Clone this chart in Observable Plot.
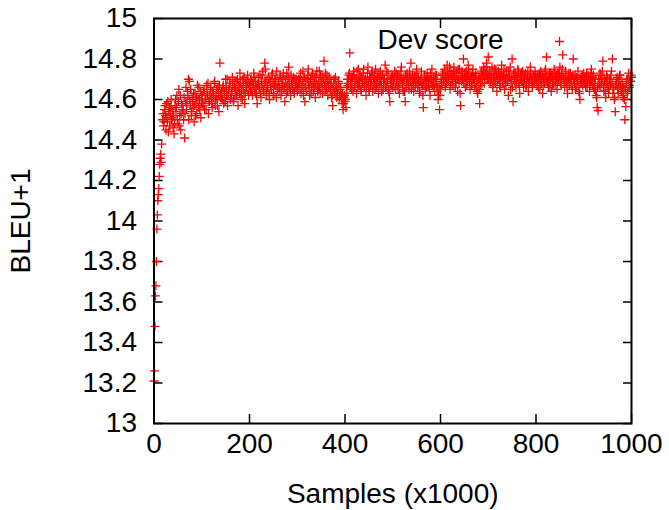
<!DOCTYPE html>
<html><head><meta charset="utf-8">
<script src="https://cdn.jsdelivr.net/npm/d3@7"></script>
<script src="https://cdn.jsdelivr.net/npm/@observablehq/plot@0.6"></script>
<style>html,body{margin:0;padding:0;background:#fff;}</style>
</head><body><div id="chart"></div>
<script>
// Early steep rise (samples x1000, one per sample)
const riseSamples = [0,1,2,3,4,5,6,7,8,9,10,11,12,13,14,15,16];
const riseBleu = [13.21,13.26,13.48,13.63,13.68,13.80,13.96,14.03,14.10,14.13,14.16,14.22,14.28,14.31,14.33,14.29,14.38];

// Plateau, even samples: 18, 20, 22, ... 1000
const evenStart = 18;
const bandStep = 2;
const evenBleu = [
14.50,14.47,14.55,14.52,14.58,14.49,14.44,14.56,14.53,14.60,14.51,14.46,
14.43,14.57,14.54,14.62,14.48,14.65,14.52,14.45,14.58,14.55,
14.50,14.41,14.59,14.55,14.64,14.70,14.69,14.57,14.52,14.61,14.56,14.49,14.63,14.58,14.53,14.60,14.66,14.55,14.51,14.62,
14.58,14.64,14.55,14.60,14.67,14.62,14.53,14.59,14.65,14.61,14.56,14.63,14.68,14.57,14.62,14.60,14.66,14.54,14.78,14.63,
14.61,14.66,14.58,14.64,14.70,14.62,14.57,14.65,14.68,14.60,14.63,14.71,14.59,14.66,14.62,14.69,14.64,14.57,14.67,14.73,14.61,14.65,14.70,14.63,14.58,14.68,14.66,14.72,14.62,14.67,
14.64,14.69,14.62,14.67,14.71,14.63,14.66,14.58,14.68,14.65,14.72,14.61,14.67,14.74,14.64,14.78,14.69,14.62,14.66,14.71,14.60,14.68,14.65,14.73,14.63,14.67,14.70,14.61,14.66,14.69,14.64,14.72,14.62,14.67,14.70,14.65,14.59,14.68,14.73,14.64,14.76,14.66,14.62,14.69,14.65,14.71,14.63,14.67,14.70,14.64,
14.68,14.65,14.71,14.63,14.67,14.74,14.66,14.59,14.69,14.64,14.72,14.67,14.62,14.70,14.66,14.73,14.64,14.68,14.61,14.71,14.67,14.65,14.74,14.63,14.69,14.66,14.71,14.79,14.64,14.68,14.72,14.62,14.67,14.70,14.65,14.61,14.57,14.68,14.64,14.71,14.66,14.63,14.69,14.60,14.65,14.62,14.58,14.55,14.61,14.59,
14.56,14.63,14.67,14.72,14.83,14.69,14.65,14.71,14.74,14.66,14.70,14.63,14.68,14.75,14.67,14.71,14.64,14.69,14.73,14.66,14.70,14.62,14.68,14.76,14.65,14.71,14.67,14.73,14.64,14.70,14.68,14.75,14.66,14.71,14.63,14.69,14.74,14.67,14.72,14.65,14.70,14.77,14.66,14.69,14.73,14.64,14.59,14.68,14.71,14.66,
14.70,14.74,14.65,14.69,14.72,14.67,14.63,14.71,14.76,14.68,14.64,14.70,14.59,14.66,14.73,14.69,14.65,14.71,14.78,14.67,14.70,14.64,14.72,14.68,14.75,14.66,14.70,14.63,14.69,14.74,14.67,14.56,14.71,14.65,14.69,14.73,14.66,14.70,14.62,14.68,14.75,14.67,14.71,14.64,14.69,14.72,14.66,14.62,14.55,14.65,
14.68,14.73,14.70,14.75,14.66,14.71,14.77,14.69,14.72,14.65,14.74,14.70,14.67,14.76,14.71,14.68,14.73,14.64,14.70,14.75,14.57,14.69,14.72,14.80,14.71,14.66,14.74,14.69,14.77,14.70,14.65,14.72,14.68,14.75,14.71,14.66,14.73,14.69,14.63,14.70,14.58,14.67,14.74,14.71,14.76,14.68,14.72,14.78,14.70,14.81,
14.73,14.68,14.71,14.76,14.66,14.72,14.69,14.75,14.64,14.70,14.73,14.67,14.71,14.77,14.68,14.72,14.65,14.70,14.74,14.69,14.62,14.71,14.76,14.68,14.80,14.59,14.70,14.73,14.66,14.71,14.75,14.68,14.63,14.72,14.69,14.74,14.66,14.70,14.73,14.67,14.71,14.64,14.69,14.76,14.70,14.66,14.72,14.68,14.74,14.70,
14.67,14.72,14.69,14.65,14.74,14.70,14.63,14.71,14.68,14.75,14.81,14.69,14.66,14.73,14.70,14.64,14.72,14.68,14.75,14.67,14.71,14.65,14.73,14.69,14.76,14.68,14.72,14.82,14.70,14.66,14.74,14.69,14.63,14.71,14.67,14.73,14.70,14.65,14.80,14.69,14.72,14.66,14.70,14.74,14.64,14.60,14.68,14.71,14.67,14.73,
14.70,14.66,14.73,14.68,14.71,14.64,14.69,14.75,14.67,14.72,14.65,14.70,14.62,14.56,14.545,14.68,14.73,14.66,14.70,14.79,14.64,14.69,14.61,14.72,14.66,14.63,14.70,14.67,14.74,14.80,14.65,14.60,14.54,14.68,14.71,14.63,14.67,14.72,14.65,14.69,14.61,14.66,14.50,14.565,14.70,14.64,14.73,14.67,14.69,14.71
];

// Plateau, odd samples: 19, 21, 23, ... 999
const oddStart = 19;
const oddBleu = [
14.53,14.49,14.57,14.45,14.51,14.59,14.54,14.47,14.56,14.50,14.55,
14.52,14.48,14.60,14.56,14.50,14.59,14.47,14.62,14.53,14.57,
14.55,14.61,14.53,14.66,14.58,14.62,14.50,14.60,14.65,14.54,14.59,14.63,14.57,14.52,14.61,14.67,14.56,14.60,14.64,14.58,
14.62,14.57,14.65,14.60,14.55,14.63,14.68,14.59,14.62,14.66,14.58,14.64,14.61,14.69,14.60,14.65,14.57,14.63,14.67,14.61,
14.64,14.60,14.67,14.63,14.59,14.66,14.70,14.62,14.65,14.68,14.61,14.64,14.67,14.60,14.69,14.65,14.62,14.70,14.66,14.63,14.68,14.64,14.60,14.67,14.71,14.63,14.66,14.69,14.64,14.68,
14.66,14.70,14.64,14.68,14.73,14.65,14.69,14.62,14.67,14.71,14.66,14.63,14.69,14.72,14.65,14.68,14.75,14.64,14.67,14.70,14.63,14.69,14.66,14.72,14.68,14.62,14.70,14.67,14.74,14.65,14.69,14.66,14.71,14.64,14.68,14.73,14.66,14.70,14.63,14.67,14.71,14.68,14.65,14.72,14.67,14.69,14.64,14.70,14.66,14.68,
14.66,14.70,14.68,14.73,14.65,14.69,14.62,14.71,14.67,14.64,14.70,14.75,14.66,14.69,14.63,14.72,14.68,14.65,14.71,14.67,14.74,14.64,14.69,14.66,14.72,14.68,14.63,14.70,14.67,14.73,14.65,14.69,14.66,14.71,14.64,14.68,14.62,14.66,14.70,14.63,14.67,14.61,14.65,14.68,14.62,14.66,14.60,14.63,14.58,14.62,
14.60,14.66,14.70,14.68,14.73,14.66,14.71,14.69,14.64,14.72,14.67,14.70,14.74,14.66,14.69,14.72,14.65,14.71,14.68,14.75,14.67,14.70,14.66,14.73,14.69,14.64,14.71,14.68,14.74,14.67,14.72,14.65,14.70,14.68,14.73,14.66,14.71,14.69,14.64,14.72,14.68,14.70,14.66,14.74,14.69,14.65,14.63,14.70,14.67,14.72,
14.68,14.71,14.66,14.73,14.69,14.65,14.72,14.68,14.74,14.70,14.66,14.69,14.64,14.72,14.68,14.71,14.67,14.74,14.69,14.65,14.72,14.68,14.70,14.66,14.73,14.69,14.71,14.67,14.64,14.70,14.68,14.62,14.67,14.72,14.69,14.66,14.71,14.68,14.65,14.73,14.70,14.67,14.69,14.66,14.72,14.68,14.64,14.60,14.66,14.62,
14.70,14.67,14.72,14.69,14.74,14.71,14.68,14.73,14.70,14.76,14.67,14.72,14.69,14.74,14.71,14.66,14.73,14.70,14.75,14.68,14.63,14.71,14.74,14.70,14.68,14.73,14.71,14.67,14.72,14.75,14.69,14.71,14.67,14.73,14.70,14.68,14.72,14.66,14.64,14.69,14.65,14.70,14.73,14.68,14.72,14.75,14.70,14.73,14.76,14.72,
14.70,14.74,14.69,14.72,14.67,14.71,14.75,14.68,14.72,14.69,14.74,14.70,14.66,14.73,14.71,14.68,14.75,14.70,14.67,14.72,14.69,14.74,14.71,14.65,14.70,14.66,14.73,14.69,14.72,14.68,14.71,14.74,14.67,14.70,14.73,14.69,14.71,14.68,14.72,14.66,14.70,14.74,14.68,14.71,14.73,14.69,14.67,14.71,14.70,14.72,
14.69,14.71,14.66,14.73,14.70,14.68,14.72,14.67,14.71,14.74,14.69,14.72,14.68,14.70,14.66,14.73,14.71,14.67,14.70,14.74,14.69,14.72,14.68,14.71,14.73,14.70,14.67,14.75,14.71,14.68,14.72,14.69,14.66,14.70,14.73,14.68,14.71,14.67,14.72,14.70,14.68,14.65,14.71,14.69,14.66,14.63,14.70,14.68,14.72,14.69,
14.68,14.71,14.69,14.66,14.72,14.70,14.67,14.73,14.69,14.71,14.66,14.68,14.64,14.61,14.66,14.70,14.67,14.72,14.69,14.74,14.66,14.70,14.64,14.68,14.71,14.67,14.65,14.69,14.72,14.68,14.63,14.66,14.61,14.67,14.70,14.65,14.69,14.72,14.67,14.64,14.66,14.62,14.60,14.65,14.68,14.63,14.70,14.66,14.69,14.72
];

const xTicks = [0, 200, 400, 600, 800, 1000];
const yTicks = [13, 13.2, 13.4, 13.6, 13.8, 14, 14.2, 14.4, 14.6, 14.8, 15];
const yTickLabels = ["13", "13.2", "13.4", "13.6", "13.8", "14", "14.2", "14.4", "14.6", "14.8", "15"];
const xLabel = "Samples (x1000)";
const yLabel = "BLEU+1";
const seriesName = "Dev score";

const points = [
  ...riseSamples.map((s, i) => ({samples: s, bleu: riseBleu[i]})),
  ...evenBleu.map((b, i) => ({samples: evenStart + i * bandStep, bleu: b})),
  ...oddBleu.map((b, i) => ({samples: oddStart + i * bandStep, bleu: b}))
];

// gnuplot-style thin "+" marker
const plusSymbol = {
  draw(ctx, size) {
    const r = Math.sqrt(size / Math.PI);
    ctx.moveTo(-r, 0); ctx.lineTo(r, 0);
    ctx.moveTo(0, -r); ctx.lineTo(0, r);
  }
};

const fontSize = 28;
const red = "#ff0000";

const chart = Plot.plot({
  width: 669,
  height: 510,
  marginLeft: 153.5,
  marginRight: 38,
  marginTop: 18,
  marginBottom: 87,
  style: {fontFamily: "'Liberation Sans', Arial, sans-serif", fontSize: fontSize + "px", background: "#fff", color: "#000"},
  x: {domain: [0, 1000]},
  y: {domain: [13, 15]},
  marks: [
    Plot.axisY({anchor: "left", ticks: yTicks, tickSize: -9, tickPadding: 26, strokeWidth: 1.5,
      tickFormat: (d) => yTickLabels[yTicks.indexOf(d)],
      label: yLabel, labelAnchor: "center", labelOffset: 143.5, labelArrow: "none"}),
    Plot.axisY({anchor: "right", ticks: yTicks, tickSize: -9, text: null, label: null, strokeWidth: 1.5}),
    Plot.axisX({anchor: "bottom", ticks: xTicks, tickSize: -9, tickPadding: 19, strokeWidth: 1.5,
      tickFormat: (d) => String(d),
      label: xLabel, labelAnchor: "center", labelOffset: 79, labelArrow: "none"}),
    Plot.axisX({anchor: "top", ticks: xTicks, tickSize: -9, text: null, label: null, strokeWidth: 1.5}),
    Plot.dot(points, {x: "samples", y: "bleu", symbol: plusSymbol, r: 4.5, fill: "none", stroke: red, strokeWidth: 1.3}),
    Plot.frame({stroke: "#000", strokeWidth: 2}),
    Plot.text([seriesName], {frameAnchor: "top-right", text: (d) => d, textAnchor: "end", lineAnchor: "middle", dx: -128, dy: 22, fill: "#000", fontSize: fontSize}),
    Plot.dot([seriesName], {frameAnchor: "top-right", dx: -72, dy: 23, symbol: plusSymbol, r: 4.5, fill: "none", stroke: red, strokeWidth: 1.3})
  ]
});
document.getElementById("chart").appendChild(chart);
</script>
</body></html>
